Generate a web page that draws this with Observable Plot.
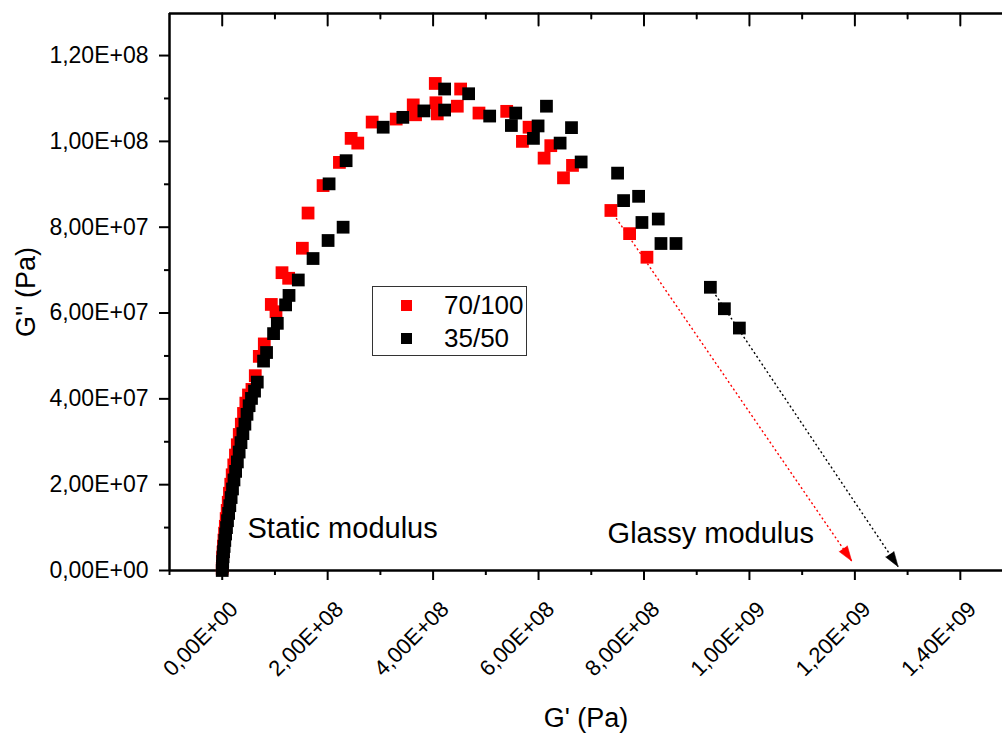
<!DOCTYPE html>
<html>
<head>
<meta charset="utf-8">
<script src="https://cdn.jsdelivr.net/npm/d3@7"></script>
<script src="https://cdn.jsdelivr.net/npm/@observablehq/plot@0.6"></script>
<style>
  body { margin: 0; background: #fff; }
  #wrap { position: relative; width: 1002px; height: 734px; font-family: "Liberation Sans", Arial, sans-serif; color: #000; }
  #legend { position: absolute; left: 372px; top: 286px; width: 155px; height: 70px; box-sizing: border-box; border: 1.5px solid #333; background: #fff; }
  .lg-sq { position: absolute; width: 11px; height: 11px; }
  .lg-tx { position: absolute; font-size: 26px; line-height: 26px; white-space: nowrap; }
</style>
</head>
<body>
<div id="wrap"></div>
<script>
// ---- Data (G' and G'' in units of 1e6 Pa) ----
const seriesNames = ["70/100", "35/50"];
const seriesColors = ["#ff0000", "#000000"];

const redG1 = [0.0, 0.3, 0.8, 1.5, 2.3, 3.3, 4.5, 5.9, 7.5, 9.4, 11.4, 13.7, 16.2, 18.9, 21.9, 25.1, 28.6, 32.3, 36.2, 40.4, 44.8, 49.8,
  56.4, 62.7, 70.3, 79.8, 93.1, 102.0, 113.4, 126.0, 152.0, 162.8, 191.3, 222.3, 244.5, 257.1, 284.4, 330.0, 362.3, 366.7,
  404.1, 405.3, 407.9, 445.9, 452.2, 487.0, 539.6, 569.4, 582.0, 610.5, 623.2, 647.3, 664.4, 737.2, 772.7, 805.6];
const redG2 = [0.5, 1.8, 3.0, 4.3, 5.7, 7.1, 8.7, 10.3, 12.1, 14.0, 15.9, 18.0, 20.1, 22.3, 24.6, 26.9, 29.3, 31.7, 34.1, 36.6, 39.0, 40.9,
  42.2, 45.4, 49.9, 52.8, 62.0, 60.3, 69.4, 68.1, 75.1, 83.3, 89.7, 95.1, 100.7, 99.6, 104.5, 105.2, 108.5, 106.2,
  113.5, 109.0, 106.4, 108.2, 112.2, 106.6, 107.0, 100.0, 103.3, 96.1, 99.0, 91.5, 94.4, 83.9, 78.5, 73.0];

const blackG1 = [0.0, 0.4, 0.9, 1.6, 2.5, 3.6, 4.9, 6.4, 8.1, 10.0, 12.1, 14.4, 16.9, 19.5, 22.3, 25.4, 28.7, 32.1, 35.6, 39.2, 43.0, 47.0, 51.0, 55.5,
  61.3, 66.5, 78.4, 84.1, 97.4, 104.5, 120.2, 126.7, 144.3, 172.3, 200.8, 229.3, 202.7, 235.0, 305.3, 342.6, 382.5, 421.8, 421.8,
  467.4, 507.3, 548.5, 556.7, 590.3, 599.1, 615.0, 640.9, 662.5, 680.8, 749.9, 761.3, 789.8, 796.1, 827.1, 832.2, 860.7, 925.9, 952.5, 980.9];
const blackG2 = [0.0, 1.0, 2.1, 3.2, 4.4, 5.6, 7.0, 8.5, 10.0, 11.6, 13.3, 15.1, 17.0, 19.0, 21.1, 23.1, 25.3, 27.6, 29.8, 31.9, 34.1, 36.4, 38.4, 40.1,
  41.8, 43.9, 48.8, 50.8, 55.2, 57.6, 61.9, 64.1, 67.7, 72.7, 76.9, 80.0, 90.1, 95.5, 103.3, 105.6, 107.1, 107.3, 112.2,
  111.1, 105.9, 103.7, 106.6, 100.7, 103.6, 108.2, 99.6, 103.2, 95.2, 92.6, 86.2, 87.2, 81.1, 81.9, 76.2, 76.2, 66.0, 61.0, 56.5];

// Glassy modulus extrapolation arrows (1e6 Pa)
const arrowFromG1 = [737.2, 925.9];
const arrowFromG2 = [83.9, 66.0];
const arrowToG1 = [1194, 1282];
const arrowToG2 = [2.2, 0.9];

// Annotations (1e6 Pa)
const annotationTexts = ["Static modulus", "Glassy modulus"];
const annotationG1 = [48, 731];
const annotationG2 = [7.5, 6.3];

// Ticks
const xMajor = [0, 2e8, 4e8, 6e8, 8e8, 1e9, 1.2e9, 1.4e9];
const xTickLabels = ["0,00E+00", "2,00E+08", "4,00E+08", "6,00E+08", "8,00E+08", "1,00E+09", "1,20E+09", "1,40E+09"];
const xMinor = [-1e8, 1e8, 3e8, 5e8, 7e8, 9e8, 1.1e9, 1.3e9];
const yMajor = [0, 2e7, 4e7, 6e7, 8e7, 1e8, 1.2e8];
const yTickLabels = ["0,00E+00", "2,00E+07", "4,00E+07", "6,00E+07", "8,00E+07", "1,00E+08", "1,20E+08"];
const yMinor = [1e7, 3e7, 5e7, 7e7, 9e7, 1.1e8];

const xTitle = "G' (Pa)";
const yTitle = "G'' (Pa)";

// ---- Build tables ----
const M = 1e6;
const points = [
  ...redG1.map((v, i) => ({series: seriesNames[0], g1: v * M, g2: redG2[i] * M})),
  ...blackG1.map((v, i) => ({series: seriesNames[1], g1: v * M, g2: blackG2[i] * M}))
];

const xDomain = [-1e8, 1.48e9];
const yDomain = [0, 1.298e8];
const W = 1002, H = 734, mL = 169, mR = 0, mT = 13, mB = 164;
const sx = d3.scaleLinear(xDomain, [mL, W - mR]);
const sy = d3.scaleLinear(yDomain, [H - mB, mT]);

const arrows = seriesNames.map((s, i) => {
  const x1 = arrowFromG1[i] * M, y1 = arrowFromG2[i] * M, x2 = arrowToG1[i] * M, y2 = arrowToG2[i] * M;
  const dx = sx(x2) - sx(x1), dy = sy(y2) - sy(y1);
  return {series: s, x1, y1, x2, y2, angle: Math.atan2(dx, -dy) * 180 / Math.PI};
});

const tickShape = {draw(ctx, l) { ctx.moveTo(0, 0); ctx.lineTo(0, -l); }};

const chart = Plot.plot({
  width: W, height: H,
  marginLeft: mL, marginRight: mR, marginTop: mT, marginBottom: mB,
  x: {domain: xDomain},
  y: {domain: yDomain},
  color: {domain: seriesNames, range: seriesColors},
  style: {fontFamily: '"Liberation Sans", Arial, sans-serif', fontSize: "22px", color: "#000", background: "#fff", overflow: "visible"},
  marks: [
    // axis ticks
    Plot.axisY({ticks: yMinor, tickSize: 5, tickFormat: () => "", strokeWidth: 2, label: null}),
    Plot.axisY({ticks: yMajor, tickSize: 10, tickPadding: 11, strokeWidth: 2, fontSize: 23,
      tickFormat: d => yTickLabels[yMajor.indexOf(d)], label: null}),
    Plot.axisX({ticks: xMinor, tickSize: 5, tickFormat: () => "", strokeWidth: 2, label: null}),
    Plot.axisX({ticks: xMajor, tickSize: 10, tickFormat: () => "", strokeWidth: 2, label: null}),
    // top inward ticks
    Plot.vector(xMajor, {x: d => d, frameAnchor: "top", length: 12, rotate: 180, anchor: "start", shape: tickShape, stroke: "#000", strokeWidth: 2}),
    Plot.vector(xMinor.filter(d => d > xDomain[0]), {x: d => d, frameAnchor: "top", length: 5, rotate: 180, anchor: "start", shape: tickShape, stroke: "#000", strokeWidth: 2}),
    // rotated x tick labels
    Plot.text(xMajor, {x: d => d, frameAnchor: "bottom", text: (d, i) => xTickLabels[i], rotate: -45,
      textAnchor: "end", lineAnchor: "middle", dx: 12, dy: 35, fontSize: 22, fill: "#000"}),
    // frame lines
    Plot.ruleX([xDomain[0]], {stroke: "#000", strokeWidth: 2.5}),
    Plot.ruleY([yDomain[0]], {stroke: "#000", strokeWidth: 2.5}),
    Plot.ruleY([yDomain[1]], {stroke: "#000", strokeWidth: 2.5}),
    // data
    Plot.dot(points, {x: "g1", y: "g2", symbol: "square", r: 7.2, fill: "series", stroke: "none"}),
    // extrapolation arrows
    Plot.link(arrows, {x1: "x1", y1: "y1", x2: "x2", y2: "y2", stroke: "series", strokeWidth: 1.4, strokeDasharray: "2,2.6"}),
    Plot.vector(arrows, {x: "x2", y: "y2", rotate: "angle", length: 15, r: 5, shape: "spike", anchor: "end",
      fill: "series", stroke: "series", strokeWidth: 0.5}),
    // annotations
    Plot.text(annotationTexts, {x: (d, i) => annotationG1[i] * M, y: (d, i) => annotationG2[i] * M, text: d => d,
      textAnchor: "start", lineAnchor: "bottom", fontSize: 29, fill: "#000"}),
    // axis titles
    Plot.text([xTitle], {frameAnchor: "bottom", text: d => d, textAnchor: "middle", lineAnchor: "middle", dy: 148, fontSize: 27, fill: "#000"}),
    Plot.text([yTitle], {frameAnchor: "left", text: d => d, textAnchor: "middle", lineAnchor: "middle", rotate: -90, dx: -143, fontSize: 27, fill: "#000"})
  ]
});

const wrap = document.getElementById("wrap");
wrap.appendChild(chart);

// Legend (inside the plot area, as HTML overlay)
const legend = document.createElement("div");
legend.id = "legend";
wrap.appendChild(legend);
const legendTops = [304, 337];
seriesNames.forEach((name, i) => {
  const sq = document.createElement("div");
  sq.className = "lg-sq";
  sq.style.background = seriesColors[i];
  sq.style.left = (399.5 - 372) + "px";
  sq.style.top = (legendTops[i] - 5.5 - 286) + "px";
  legend.appendChild(sq);
  const tx = document.createElement("div");
  tx.className = "lg-tx";
  tx.textContent = name;
  tx.style.left = (443 - 372) + "px";
  tx.style.top = (legendTops[i] - 13 - 286) + "px";
  legend.appendChild(tx);
});
</script>
</body>
</html>
